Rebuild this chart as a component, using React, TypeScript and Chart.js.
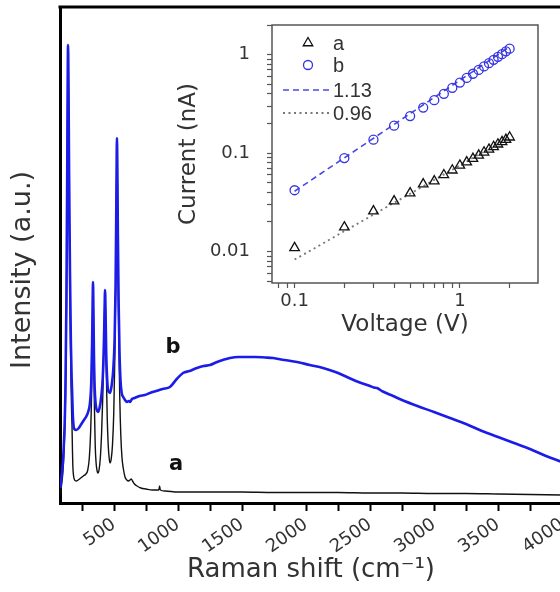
import React, { useEffect, useRef } from 'react';
import { Chart, registerables } from 'chart.js';

Chart.register(...registerables);

// ---------- Main Raman spectra ----------
const SHIFT_B = [80, 105, 120, 128, 134, 138, 141, 144, 149, 156, 163, 169, 173, 177, 182, 190, 205, 225, 245, 265, 285, 300, 312, 322, 329, 333, 336, 339, 343, 349, 356, 365, 375, 387, 400, 412, 421, 426, 430, 434, 439, 446, 455, 469, 482, 495, 505, 512, 517, 520, 523, 526, 530, 536, 543, 551, 560, 572, 586, 600, 615, 625, 640, 660, 700, 740, 781, 830, 880, 937, 990, 1039, 1090, 1148, 1200, 1250, 1305, 1350, 1406, 1470, 1539, 1600, 1680, 1742, 1830, 1930, 2030, 2133, 2230, 2320, 2410, 2500, 2530, 2555, 2600, 2680, 2750, 2870, 3000, 3125, 3250, 3375, 3500, 3625, 3750, 3875, 4000];
const INTENSITY_B = [15, 50, 110, 200, 320, 420, 458, 425, 330, 230, 160, 125, 110, 92, 80, 74, 73, 75, 79, 83, 87, 92, 100, 120, 160, 200, 221, 195, 150, 115, 100, 93, 91, 95, 106, 125, 160, 190, 213, 190, 150, 125, 112, 110, 118, 135, 165, 215, 280, 330, 365, 335, 270, 200, 150, 122, 110, 106, 103, 101, 102, 101, 104, 105, 107, 108, 110, 112, 114, 116, 124, 130, 132, 135, 137, 138, 141, 143, 145, 146, 146, 146, 145.5, 145, 143, 141, 138, 135, 131, 126, 121, 117, 115.5, 115, 111.5, 107, 103, 97, 91, 85, 79, 72, 66, 60, 54, 47, 41];

const SHIFT_A = [80, 105, 120, 128, 134, 138, 141, 144, 149, 156, 163, 168, 172, 175, 178, 183, 192, 205, 220, 240, 260, 280, 295, 307, 317, 325, 331, 336, 341, 347, 353, 360, 368, 375, 383, 393, 403, 413, 421, 426, 430, 434, 440, 447, 455, 463, 469, 478, 488, 498, 507, 514, 519, 523, 527, 532, 538, 545, 553, 562, 572, 586, 600, 612, 625, 635, 645, 660, 680, 710, 750, 800, 850, 856, 862, 900, 1000, 1250, 1500, 1750, 2000, 2250, 2500, 2750, 3000, 3250, 3500, 3750, 4000];
const INTENSITY_A = [8, 40, 100, 190, 310, 410, 445, 410, 310, 200, 130, 95, 76, 55, 38, 28, 23, 22, 23, 25, 27, 29, 33, 45, 70, 110, 165, 212, 160, 95, 58, 40, 32, 30, 33, 45, 70, 110, 160, 192, 206, 185, 130, 85, 57, 44, 40, 44, 58, 90, 150, 230, 300, 352, 310, 230, 160, 105, 68, 46, 35, 26, 23, 22, 23, 24, 22, 19, 17, 15, 14, 13, 13, 17, 13, 12, 11, 11, 11, 10.5, 10.5, 10.5, 10, 10, 9.5, 9.5, 9, 8.5, 8];

const MAIN_X_TICKS = [250, 500, 750, 1000, 1250, 1500, 1750, 2000, 2250, 2500, 2750, 3000, 3250, 3500, 3750, 4000];
const MAIN_X_LABELED = [500, 1000, 1500, 2000, 2500, 3000, 3500, 4000];

const SERIES_LABELS = [
  { text: 'b', x: 961, y: 155 },
  { text: 'a', x: 984, y: 38 },
];

// ---------- Inset I-V ----------
const VOLTAGE = [0.1, 0.2, 0.3, 0.4, 0.5, 0.6, 0.7, 0.8, 0.9, 1.0, 1.1, 1.2, 1.3, 1.4, 1.5, 1.6, 1.7, 1.8, 1.9, 2.0];
const CURRENT_A = [0.0109, 0.0177, 0.0258, 0.0326, 0.0393, 0.0485, 0.052, 0.06, 0.067, 0.075, 0.081, 0.088, 0.095, 0.102, 0.109, 0.116, 0.123, 0.13, 0.137, 0.145];
const CURRENT_B = [0.042, 0.089, 0.137, 0.19, 0.238, 0.29, 0.345, 0.4, 0.46, 0.52, 0.58, 0.64, 0.7, 0.76, 0.82, 0.885, 0.95, 1.01, 1.08, 1.15];
const FIT_VOLTAGE = [0.1, 2.0];
const FIT_B = [0.041, 1.2];
const FIT_A = [0.0083, 0.146];

const INSET_X_TICKS = [0.08, 0.09, 0.1, 0.2, 0.3, 0.4, 0.5, 0.6, 0.7, 0.8, 0.9, 1, 2];
const INSET_X_LABELS = ['0.1', '1'];
const INSET_Y_TICKS = [0.005, 0.006, 0.007, 0.008, 0.009, 0.01, 0.02, 0.03, 0.04, 0.05, 0.06, 0.07, 0.08, 0.09, 0.1, 0.2, 0.3, 0.4, 0.5, 0.6, 0.7, 0.8, 0.9, 1, 2];
const INSET_Y_LABELS = ['0.01', '0.1', '1'];

const BLUE = '#1c1ce8';
const BLACK = '#111111';
const FONT = 'DejaVu Sans';

const labelFor = (v: number, list: string[]) => {
  const hit = list.find((s) => Math.abs(parseFloat(s) - v) / parseFloat(s) < 1e-6);
  return hit ?? '';
};

const noPad = (s: any) => {
  s.paddingLeft = 0;
  s.paddingRight = 0;
  s.paddingTop = 0;
  s.paddingBottom = 0;
};

const mainDecor = {
  id: 'mainDecor',
  afterDraw(chart: any) {
    const { ctx, chartArea } = chart;
    ctx.save();
    ctx.strokeStyle = '#000';
    ctx.lineWidth = 3;
    ctx.beginPath();
    ctx.moveTo(chartArea.left - 1.5, chartArea.top);
    ctx.lineTo(chart.width, chartArea.top);
    ctx.stroke();
    ctx.translate(23, 270);
    ctx.rotate(-Math.PI / 2);
    ctx.fillStyle = '#333';
    ctx.font = `27px "${FONT}"`;
    ctx.textAlign = 'center';
    ctx.textBaseline = 'middle';
    ctx.fillText('Intensity (a.u.)', 0, 0);
    ctx.restore();
    ctx.save();
    ctx.fillStyle = BLACK;
    ctx.font = `bold 21px "${FONT}"`;
    ctx.textAlign = 'center';
    ctx.textBaseline = 'middle';
    const xs = chart.scales.x;
    const ys = chart.scales.y;
    SERIES_LABELS.forEach((l) => {
      ctx.fillText(l.text, xs.getPixelForValue(l.x), ys.getPixelForValue(l.y));
    });
    ctx.restore();
  },
};

const insetDecor = {
  id: 'insetDecor',
  afterDraw(chart: any) {
    const { ctx, chartArea } = chart;
    const { left, top, right, bottom } = chartArea;
    ctx.save();
    ctx.strokeStyle = '#555';
    ctx.lineWidth = 1.5;
    ctx.strokeRect(left, top, right - left, bottom - top);
    const rows = [18, 40, 65, 88];
    ctx.font = '20px "Liberation Sans"';
    ctx.textBaseline = 'middle';
    chart.data.datasets.forEach((d: any, i: number) => {
      const y = top + rows[i];
      ctx.save();
      if (d.showLine) {
        ctx.strokeStyle = d.borderColor;
        ctx.lineWidth = d.borderWidth;
        ctx.setLineDash(d.borderDash || []);
        ctx.beginPath();
        ctx.moveTo(left + 11, y);
        ctx.lineTo(left + 60, y);
        ctx.stroke();
      } else {
        const cx = left + 36;
        const r = d.pointRadius;
        ctx.strokeStyle = d.pointBorderColor;
        ctx.lineWidth = d.pointBorderWidth;
        ctx.beginPath();
        if (d.pointStyle === 'triangle') {
          ctx.moveTo(cx, y - r);
          ctx.lineTo(cx + 0.866 * r, y + 0.5 * r);
          ctx.lineTo(cx - 0.866 * r, y + 0.5 * r);
          ctx.closePath();
        } else {
          ctx.arc(cx, y, r, 0, Math.PI * 2);
        }
        ctx.stroke();
      }
      ctx.restore();
      ctx.fillStyle = '#333';
      ctx.fillText(d.label, left + 61, y + 1);
    });
    ctx.restore();
  },
};

export default function App() {
  const mainRef = useRef<HTMLCanvasElement>(null);
  const insetRef = useRef<HTMLCanvasElement>(null);

  useEffect(() => {
    document.body.style.margin = '0';
    const main = new Chart(mainRef.current as HTMLCanvasElement, {
      type: 'line',
      data: {
        datasets: [
          {
            label: 'b',
            data: SHIFT_B.map((x, i) => ({ x, y: INTENSITY_B[i] })),
            borderColor: BLUE,
            borderWidth: 2.6,
            pointRadius: 0,
            cubicInterpolationMode: 'monotone',
          },
          {
            label: 'a',
            data: SHIFT_A.map((x, i) => ({ x, y: INTENSITY_A[i] })),
            borderColor: BLACK,
            borderWidth: 1.4,
            pointRadius: 0,
            cubicInterpolationMode: 'monotone',
          },
        ],
      },
      options: {
        animation: false,
        responsive: false,
        layout: { padding: { top: 7, right: 4, left: 0, bottom: 0 } },
        plugins: { legend: { display: false }, tooltip: { enabled: false } },
        scales: {
          x: {
            type: 'linear',
            min: 78,
            max: 4000,
            afterBuildTicks: (s: any) => {
              s.ticks = MAIN_X_TICKS.map((v) => ({ value: v }));
            },
            afterFit: (s: any) => {
              s.height = 89;
              noPad(s);
            },
            ticks: {
              autoSkip: false,
              minRotation: 35,
              maxRotation: 35,
              padding: 3,
              color: '#333',
              font: { family: FONT, size: 18 },
              callback: (v: any) => (MAIN_X_LABELED.includes(Number(v)) ? String(v) : ''),
            },
            grid: { display: true, drawOnChartArea: false, drawTicks: true, tickLength: 8, tickWidth: 2, tickColor: '#000' },
            border: { display: true, color: '#000', width: 3 },
            title: {
              display: true,
              text: 'Raman shift (cm⁻¹)',
              color: '#333',
              font: { family: FONT, size: 26 },
              padding: { top: 0, bottom: 6 },
            },
          },
          y: {
            min: 0,
            max: 496,
            ticks: { display: false },
            grid: { display: false },
            border: { display: true, color: '#000', width: 3 },
            afterFit: (s: any) => {
              s.width = 60;
              noPad(s);
            },
          },
        },
      } as any,
      plugins: [mainDecor],
    } as any);

    const inset = new Chart(insetRef.current as HTMLCanvasElement, {
      type: 'scatter',
      data: {
        datasets: [
          {
            label: 'a',
            data: VOLTAGE.map((x, i) => ({ x, y: CURRENT_A[i] })),
            pointStyle: 'triangle',
            pointRadius: 5.5,
            pointBorderColor: BLACK,
            pointBackgroundColor: 'rgba(0,0,0,0)',
            pointBorderWidth: 1.3,
            showLine: false,
          },
          {
            label: 'b',
            data: VOLTAGE.map((x, i) => ({ x, y: CURRENT_B[i] })),
            pointStyle: 'circle',
            pointRadius: 4.5,
            pointBorderColor: '#3434e0',
            pointBackgroundColor: 'rgba(0,0,0,0)',
            pointBorderWidth: 1.3,
            showLine: false,
          },
          {
            label: '1.13',
            data: FIT_VOLTAGE.map((x, i) => ({ x, y: FIT_B[i] })),
            showLine: true,
            borderColor: '#4848e6',
            borderWidth: 1.6,
            borderDash: [6, 4],
            pointRadius: 0,
          },
          {
            label: '0.96',
            data: FIT_VOLTAGE.map((x, i) => ({ x, y: FIT_A[i] })),
            showLine: true,
            borderColor: '#777',
            borderWidth: 1.8,
            borderDash: [2, 3.5],
            pointRadius: 0,
          },
        ],
      },
      options: {
        animation: false,
        responsive: false,
        layout: { padding: { top: 10, right: 12, left: 0, bottom: 0 } },
        plugins: { legend: { display: false }, tooltip: { enabled: false } },
        scales: {
          x: {
            type: 'logarithmic',
            min: 0.073,
            max: 2.97,
            afterBuildTicks: (s: any) => {
              s.ticks = INSET_X_TICKS.map((v) => ({ value: v }));
            },
            afterFit: (s: any) => {
              s.height = 62;
              noPad(s);
            },
            ticks: {
              autoSkip: false,
              minRotation: 0,
              maxRotation: 0,
              padding: 3,
              color: '#333',
              font: { family: FONT, size: 18 },
              callback: (v: any) => labelFor(Number(v), INSET_X_LABELS),
            },
            grid: { display: true, drawOnChartArea: false, tickLength: 5, tickWidth: 1.2, tickColor: '#555' },
            border: { display: false },
            title: {
              display: true,
              text: 'Voltage (V)',
              color: '#333',
              font: { family: FONT, size: 23 },
              padding: { top: 0, bottom: 6 },
            },
          },
          y: {
            type: 'logarithmic',
            min: 0.0048,
            max: 2.0,
            afterBuildTicks: (s: any) => {
              s.ticks = INSET_Y_TICKS.map((v) => ({ value: v }));
            },
            afterFit: (s: any) => {
              s.width = 97;
              noPad(s);
            },
            ticks: {
              autoSkip: false,
              padding: 17,
              color: '#333',
              font: { family: FONT, size: 18 },
              callback: (v: any) => labelFor(Number(v), INSET_Y_LABELS),
            },
            grid: { display: true, drawOnChartArea: false, tickLength: 5, tickWidth: 1.2, tickColor: '#555' },
            border: { display: false },
            title: {
              display: true,
              text: 'Current (nA)',
              color: '#333',
              font: { family: FONT, size: 23 },
              padding: { top: 0, bottom: 0 },
            },
          },
        },
      } as any,
      plugins: [insetDecor],
    } as any);

    return () => {
      main.destroy();
      inset.destroy();
    };
  }, []);

  return (
    <div
      style={{
        position: 'fixed',
        left: 0,
        top: 0,
        width: 560,
        height: 592,
        overflow: 'hidden',
        background: '#fff',
      }}
    >
      <canvas ref={mainRef} width={566} height={592} style={{ position: 'absolute', left: 0, top: 0 }} />
      <canvas ref={insetRef} width={375} height={330} style={{ position: 'absolute', left: 175, top: 15 }} />
    </div>
  );
}
